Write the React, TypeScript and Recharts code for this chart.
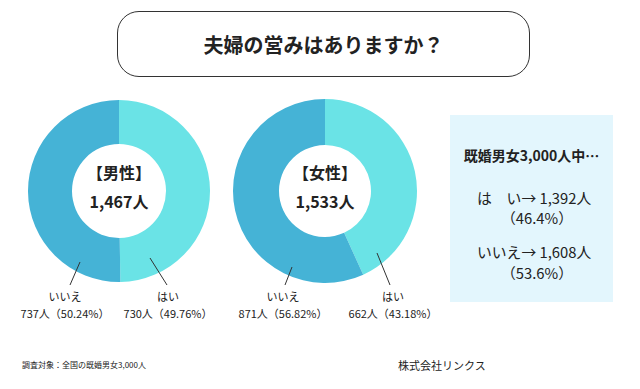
import { PieChart, Pie, Cell } from 'recharts'

const sliceNames = ['はい', 'いいえ']
const sliceColors = ['#6ae3e6', '#45b3d6']
const maleValues = [730, 737]
const femaleValues = [662, 871]
const malePct = ['49.76%', '50.24%']
const femalePct = ['43.18%', '56.82%']
const groupLabels = ['【男性】', '【女性】']
const totalYes = 1392
const totalNo = 1608
const totalYesPct = '46.4%'
const totalNoPct = '53.6%'

const FONT = '"Noto Sans CJK JP", "Noto Sans", sans-serif'
const INK = '#222'

type Off = { sx: number; sy: number; ex: number; ey: number; tx: number }

const maleOffsets: Off[] = [
  { sx: 31, sy: 67, ex: 48, ey: 94, tx: 49 },
  { sx: -39, sy: 71, ex: -49, ey: 94, tx: -54 },
]
const femaleOffsets: Off[] = [
  { sx: 52, sy: 62, ex: 65, ey: 94, tx: 68 },
  { sx: -33, sy: 76, ex: -40, ey: 94, tx: -42 },
]

const fmt = (n: number) => n.toLocaleString('en-US')

function makeLabel(offs: Off[], values: number[], pcts: string[]) {
  return (p: any) => {
    const { cx, cy, index } = p
    const o = offs[index]
    return (
      <g key={`lbl-${index}`}>
        <line x1={cx + o.sx} y1={cy + o.sy} x2={cx + o.ex} y2={cy + o.ey} stroke="#333" strokeWidth={1} />
        <text x={cx + o.tx} y={cy + 110} textAnchor="middle" fontSize={11} fill={INK} fontFamily={FONT}>
          {sliceNames[index]}
        </text>
        <text x={cx + o.tx} y={cy + 127} textAnchor="middle" fontSize={11} fill={INK} fontFamily={FONT}>
          {`${values[index]}人（${pcts[index]}）`}
        </text>
      </g>
    )
  }
}

export default function App() {
  const maleData = sliceNames.map((name, i) => ({ name, value: maleValues[i] }))
  const femaleData = sliceNames.map((name, i) => ({ name, value: femaleValues[i] }))
  const maleTotal = maleValues.reduce((a, b) => a + b, 0)
  const femaleTotal = femaleValues.reduce((a, b) => a + b, 0)

  const centerText = (x: number, label: string, total: number) => (
    <>
      <div style={{ position: 'absolute', left: x - 60, width: 120, top: 162, textAlign: 'center', fontSize: 16, fontWeight: 700, color: INK, lineHeight: '20px' }}>
        {label}
      </div>
      <div style={{ position: 'absolute', left: x - 60, width: 120, top: 191, textAlign: 'center', fontSize: 16, fontWeight: 700, color: INK, lineHeight: '20px' }}>
        {fmt(total)}人
      </div>
    </>
  )

  return (
    <div style={{ position: 'fixed', left: 0, top: 0, width: 640, height: 389, background: '#fff', fontFamily: FONT, overflow: 'hidden' }}>
      {/* title box */}
      <div style={{ position: 'absolute', left: 117, top: 11, width: 411, height: 64, border: '1.5px solid #333', borderRadius: 22, display: 'flex', alignItems: 'center', justifyContent: 'center', fontSize: 20, fontWeight: 700, color: INK }}>
        夫婦の営みはありますか？
      </div>

      {/* summary box */}
      <div style={{ position: 'absolute', left: 450, top: 115, width: 163, height: 187, background: '#e3f6fd' }} />
      <div style={{ position: 'absolute', left: 450, width: 163, top: 145, textAlign: 'center', fontSize: 14, fontWeight: 700, color: INK, lineHeight: '20px' }}>
        既婚男女3,000人中…
      </div>
      <div style={{ position: 'absolute', left: 477, top: 188, fontSize: 14.8, color: INK, lineHeight: '20px', whiteSpace: 'pre' }}>
        {`は　い→ ${fmt(totalYes)}人`}
      </div>
      <div style={{ position: 'absolute', left: 501, top: 208, fontSize: 14.8, color: INK, lineHeight: '20px' }}>
        {`（${totalYesPct}）`}
      </div>
      <div style={{ position: 'absolute', left: 477, top: 242, fontSize: 14.8, color: INK, lineHeight: '20px', whiteSpace: 'pre' }}>
        {`いいえ→ ${fmt(totalNo)}人`}
      </div>
      <div style={{ position: 'absolute', left: 501, top: 263, fontSize: 14.8, color: INK, lineHeight: '20px' }}>
        {`（${totalNoPct}）`}
      </div>

      <div style={{ position: 'absolute', left: 0, top: 0 }}>
        <PieChart width={640} height={389} margin={{ top: 0, right: 0, bottom: 0, left: 0 }}>
          <Pie data={maleData} dataKey="value" nameKey="name" cx={119} cy={191} innerRadius={47} outerRadius={91}
            startAngle={90} endAngle={-270} stroke="none" isAnimationActive={false}
            labelLine={false} label={makeLabel(maleOffsets, maleValues, malePct)}>
            {maleData.map((_, i) => <Cell key={i} fill={sliceColors[i]} />)}
          </Pie>
          <Pie data={femaleData} dataKey="value" nameKey="name" cx={325} cy={191} innerRadius={46} outerRadius={92}
            startAngle={90} endAngle={-270} stroke="none" isAnimationActive={false}
            labelLine={false} label={makeLabel(femaleOffsets, femaleValues, femalePct)}>
            {femaleData.map((_, i) => <Cell key={i} fill={sliceColors[i]} />)}
          </Pie>
        </PieChart>
      </div>

      {centerText(119, groupLabels[0], maleTotal)}
      {centerText(325, groupLabels[1], femaleTotal)}

      {/* footer */}
      <div style={{ position: 'absolute', left: 22, top: 359, fontSize: 8, color: INK, lineHeight: '12px' }}>
        調査対象：全国の既婚男女3,000人
      </div>
      <div style={{ position: 'absolute', left: 398, top: 357, fontSize: 11, color: INK, lineHeight: '16px' }}>
        株式会社リンクス
      </div>
    </div>
  )
}
